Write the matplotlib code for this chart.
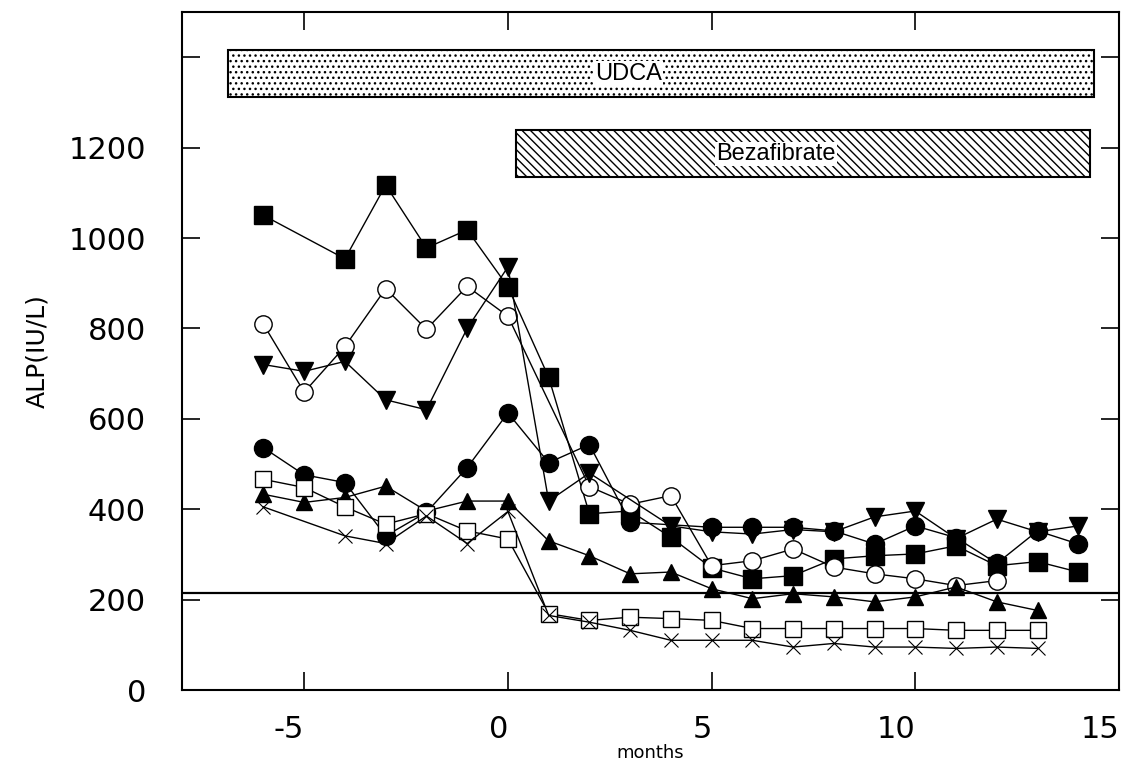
import numpy as np
import matplotlib
matplotlib.use("Agg")
import matplotlib.pyplot as plt

nan = np.nan
months = list(range(-6, 15))

alp_sq_filled = [1050, nan, 954, 1117, 978, 1018, 892, 692, 390, 396, 338, 270, 246, 253, 290, 297, 301, 319, 275, 284, 261]
alp_circ_open = [809, 659, 760, 888, 798, 893, 827, nan, 450, 411, 430, 275, 286, 312, 272, 257, 246, 231, 242, nan, nan]
alp_tri_down = [720, 705, 727, 642, 620, 800, 936, 418, 480, nan, 363, 350, 345, 355, 350, 383, 396, 335, 378, 350, 363]
alp_circ_filled = [536, 476, 459, 341, 393, 492, 613, 503, 543, 371, nan, 360, 360, 360, 352, 323, 363, 337, 280, 352, 323]
alp_tri_up = [433, 415, 426, 451, 396, 418, 418, 330, 297, 257, 261, 224, 202, 213, 206, 195, 206, 228, 195, 176, nan]
alp_sq_open = [466, 448, 405, 367, 390, 352, 334, 169, 154, 161, 158, 154, 136, 136, 136, 136, 136, 132, 132, 132, nan]
alp_cross = [405, nan, 341, 324, 385, 324, 395, 165, 150, 132, 110, 110, 110, 95, 103, 95, 95, 92, 95, 92, nan]

normal_limit = 215

bar_labels = ["UDCA", "Bezafibrate"]
bar_start = [-6.87, 0.19]
bar_end = [14.38, 14.28]
bar_bottom = [1311, 1134]
bar_top = [1416, 1238]
bar_hatch = ["...", "\\\\\\\\"]

xticks = [-5, 0, 5, 10, 15]
xticklabels = ["-5", "0", "5", "10", "15"]
yticks = [0, 200, 400, 600, 800, 1000, 1200, 1400]
yticklabels = ["0", "200", "400", "600", "800", "1000", "1200", ""]

fig = plt.figure(figsize=(11.30, 7.75), dpi=100)
ax = fig.add_axes([182/1130, 1-690/775, (1119-182)/1130, (690-12)/775])

plt.rcParams['hatch.linewidth'] = 1.0

for i in range(len(bar_labels)):
    ax.bar(bar_start[i], bar_top[i]-bar_bottom[i], width=bar_end[i]-bar_start[i],
           bottom=bar_bottom[i], align='edge', color='white', edgecolor='black',
           hatch=bar_hatch[i], linewidth=1.5, zorder=1)
    cx = (bar_start[i]+bar_end[i])/2 - (0.8 if i == 0 else 0.65)
    cy = (bar_top[i]+bar_bottom[i])/2
    ax.text(cx, cy, bar_labels[i], ha='center', va='center', fontsize=17,
            family=['Liberation Sans Narrow', 'Liberation Sans', 'DejaVu Sans'],
            bbox=dict(facecolor='white', edgecolor='none', pad=1.0), zorder=3)

ax.axhline(normal_limit, color='black', lw=1.6, zorder=2)

lw = 1.0
series = [
    (alp_sq_filled, dict(marker='s', ms=13, mfc='black', mec='black')),
    (alp_circ_open, dict(marker='o', ms=12.5, mfc='white', mec='black', mew=1.0)),
    (alp_tri_down, dict(marker='v', ms=13, mfc='black', mec='black')),
    (alp_circ_filled, dict(marker='o', ms=13, mfc='black', mec='black')),
    (alp_tri_up, dict(marker='^', ms=12, mfc='black', mec='black')),
    (alp_sq_open, dict(marker='s', ms=12, mfc='white', mec='black', mew=1.0)),
    (alp_cross, dict(marker='x', ms=10, mfc='none', mec='black', mew=0.8)),
]
for vals, st in series:
    x = np.array(months, dtype=float)
    y = np.array(vals, dtype=float)
    m = ~np.isnan(y)
    ax.plot(x[m], y[m], color='black', lw=lw, zorder=4, **st)

ax.set_xlim(-8, 15)
ax.set_ylim(0, 1500)
ax.set_xticks(xticks)
ax.set_xticklabels(xticklabels, ha='right')
ax.set_yticks(yticks)
ax.set_yticklabels(yticklabels)
ax.tick_params(direction='in', length=13, width=1.2, top=True, right=True,
               labelsize=22, pad=12)
ax.tick_params(axis='x', pad=18)
ax.tick_params(axis='y', pad=26)
for s in ax.spines.values():
    s.set_linewidth(1.5)

ax.set_ylabel("ALP(IU/L)", fontsize=18, labelpad=14)
ax.set_xlabel("months", fontsize=13, labelpad=0)

fig.savefig("out.png", dpi=100)
